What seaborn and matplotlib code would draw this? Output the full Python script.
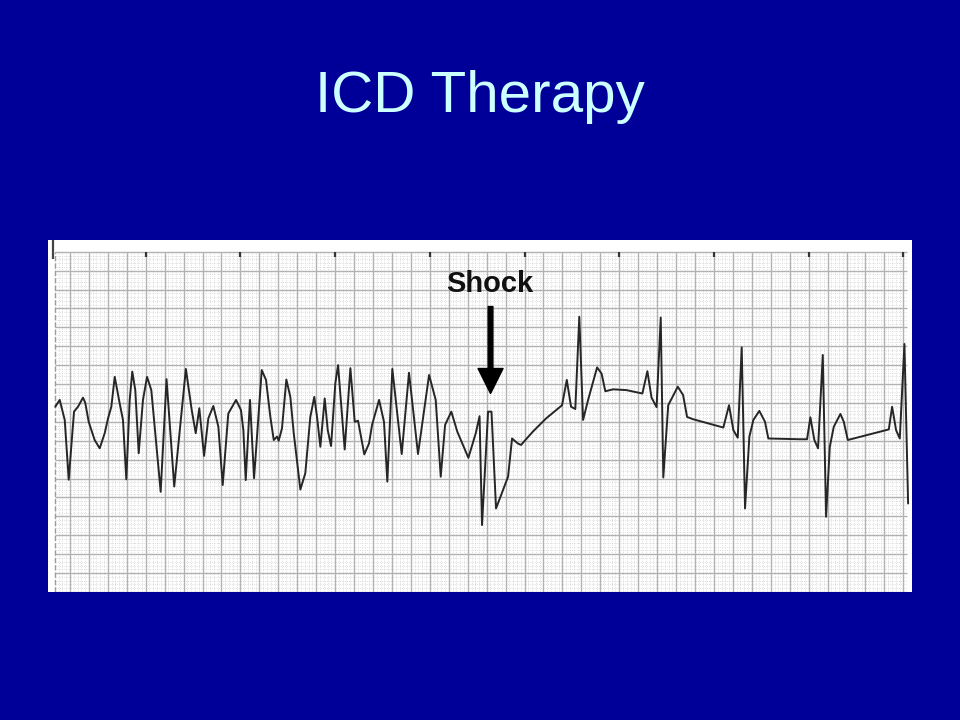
import numpy as np
import pandas as pd
import matplotlib
matplotlib.use('Agg')
import matplotlib.pyplot as plt
import seaborn as sns

# ECG strip: time (s) and amplitude (mV), 25 mm/s, 10 mm/mV
time_s = [0.045, 0.092, 0.145, 0.187, 0.243, 0.285, 0.338, 0.362, 0.398, 0.461,
          0.514, 0.567, 0.602, 0.637, 0.673, 0.725, 0.760, 0.795, 0.831, 0.858,
          0.890, 0.926, 0.971, 1.014, 1.059, 1.101, 1.158, 1.220, 1.301, 1.424,
          1.486, 1.528, 1.566, 1.616, 1.661, 1.714, 1.767, 1.813, 1.872, 1.954,
          2.006, 2.031, 2.056, 2.101, 2.144, 2.225, 2.270, 2.316, 2.352, 2.387,
          2.404, 2.439, 2.485, 2.527, 2.563, 2.633, 2.685, 2.738, 2.780, 2.809,
          2.844, 2.890, 2.922, 2.957, 3.002, 3.031, 3.101, 3.161, 3.207, 3.242,
          3.308, 3.358, 3.390, 3.464, 3.516, 3.551, 3.604, 3.703, 3.780, 3.875,
          3.992, 4.062, 4.115, 4.161, 4.227, 4.290, 4.407, 4.485, 4.525, 4.551,
          4.615, 4.651, 4.699, 4.826, 4.868, 4.928, 4.963, 5.087, 5.227, 5.396,
          5.446, 5.491, 5.536, 5.578, 5.618, 5.671, 5.766, 5.813, 5.853, 5.935,
          6.075, 6.244, 6.297, 6.341, 6.394, 6.438, 6.465, 6.517, 6.618, 6.674,
          6.716, 6.779, 7.099, 7.159, 7.205, 7.251, 7.293, 7.328, 7.374, 7.416,
          7.479, 7.539, 7.574, 7.909, 7.983, 8.018, 8.060, 8.099, 8.149, 8.184,
          8.223, 8.265, 8.335, 8.371, 8.413, 8.846, 8.881, 8.923, 8.962, 9.011,
          9.050]
amp_mv = [0.40, 0.58, 0.05, -1.53, 0.27, 0.40, 0.64, 0.50, 0.00, -0.48,
          -0.70, -0.30, 0.09, 0.40, 1.19, 0.49, 0.05, -1.52, 0.58, 1.33,
          0.84, -0.83, 0.58, 1.19, 0.84, -0.30, -1.85, 1.13, -1.71, 1.40,
          0.31, -0.30, 0.36, -0.90, 0.09, 0.42, -0.13, -1.67, 0.22, 0.58,
          0.31, -0.22, -1.54, 0.58, -1.49, 1.37, 1.11, 0.13, -0.48, -0.39,
          -0.50, -0.17, 1.12, 0.66, -0.30, -1.79, -1.36, 0.13, 0.66, 0.13,
          -0.66, 0.62, -0.22, -0.64, 1.02, 1.50, -0.73, 1.42, 0.00, 0.03,
          -0.86, -0.57, -0.08, 0.58, 0.00, -1.58, 1.40, -0.85, 1.30, -0.85,
          1.24, 0.58, -1.45, -0.08, 0.27, -0.26, -0.95, -0.30, 0.15, -2.73,
          0.27, 0.27, -2.29, -1.45, -0.44, -0.57, -0.61, -0.26, 0.09, 0.44,
          1.11, 0.40, 0.34, 2.78, 0.05, 0.58, 1.44, 1.28, 0.81, 0.86,
          0.84, 0.75, 1.34, 0.64, 0.39, 2.76, -1.47, 0.44, 0.93, 0.71,
          0.13, 0.07, -0.15, 0.44, -0.22, -0.42, 1.97, -2.29, -0.39, 0.05,
          0.29, 0.00, -0.44, -0.46, -0.46, 0.12, -0.48, -0.70, 1.77, -2.51,
          -0.66, -0.13, 0.21, 0.00, -0.48, -0.20, 0.40, -0.22, -0.44, 2.06,
          -2.16]
sec_marks = [1, 2, 3, 4, 5, 6, 7, 8, 9]
shock_time = 4.641

ecg = pd.DataFrame({'t': time_s, 'mv': amp_mv})

sns.set_style('white')
plt.rcParams['font.family'] = ['Liberation Sans', 'DejaVu Sans']

fig = plt.figure(figsize=(9.6, 7.2), dpi=100, facecolor='#000099')
fig.text(0.5, 1 - 112 / 720, 'ICD Therapy', ha='center', va='baseline',
         color='#ccffff', fontsize=42)

ax = fig.add_axes([48 / 960, 128 / 720, 864 / 960, 352 / 720])
ax.set_facecolor('white')

# ecg paper grid
t0, t1 = 0.045, 9.04
ax.vlines(np.arange(0.04, 9.01, 0.04), -4.5, 4.5, colors='#d2d2d2', linestyles=':', lw=0.6)
ax.hlines(np.arange(-4.5, 4.51, 0.1), t0, t1, colors='#d2d2d2', linestyles=':', lw=0.6)
ax.vlines(np.arange(0.2, 9.01, 0.2), -4.5, 4.5, colors='#b2b2b2', lw=1.0)
ax.hlines(np.arange(-4.5, 4.51, 0.5), t0, t1, colors='#b2b2b2', lw=1.0)
ax.vlines([t0], -4.5, 4.5, colors='#9a9a9a', linestyles='--', lw=1.0)
ax.vlines(sec_marks, 4.37, 4.5, colors='#333333', lw=1.6)
ax.vlines([0.02], 4.3, 4.81, colors='#444444', lw=1.6)

sns.lineplot(data=ecg, x='t', y='mv', ax=ax, color='#262626', lw=1.4,
             sort=False, estimator=None, solid_joinstyle='round')

ax.annotate('', xy=(shock_time, 0.75), xytext=(shock_time, 3.05),
            arrowprops=dict(facecolor='black', edgecolor='black', width=3.4,
                            headwidth=18, headlength=18, shrink=0))
ax.text(shock_time - 0.01, 3.43, 'Shock', ha='center', va='baseline',
        fontsize=21, fontweight='bold', color='#111111')

ax.set_xlim(-0.0317, 9.091)
ax.set_ylim(-4.5, 4.81)
ax.set_xticks([])
ax.set_yticks([])
ax.set_xlabel('')
ax.set_ylabel('')
for s in ax.spines.values():
    s.set_visible(False)

fig.savefig('out.png', dpi=100, facecolor=fig.get_facecolor())
